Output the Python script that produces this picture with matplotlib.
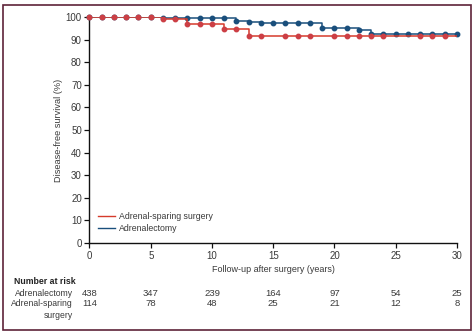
import numpy as np
import matplotlib
matplotlib.use("Agg")
import matplotlib.pyplot as plt
from matplotlib.patches import Rectangle
from matplotlib.lines import Line2D

plt.rcParams['font.family'] = ['Liberation Sans', 'DejaVu Sans']

# follow-up years with a censoring mark and the survival estimate at that time
years_adx = [0, 1, 2, 3, 4, 5, 6, 7, 8, 9, 10, 11, 12, 13, 14, 15, 16, 17, 18,
             19, 20, 21, 22, 23, 24, 25, 26, 27, 28, 29, 30]
surv_adx = [100, 100, 100, 100, 100, 100, 99.6, 99.6, 99.6, 99.6, 99.6, 99.6,
            98.4, 97.8, 97.3, 97.3, 97.3, 97.3, 97.3, 95.2, 95.2, 95.2, 94.2,
            92.6, 92.6, 92.6, 92.6, 92.6, 92.6, 92.6, 92.6]

years_spare = [0, 1, 2, 3, 4, 5, 6, 7, 8, 9, 10, 11, 12, 13, 14, 16, 17, 18,
               20, 21, 22, 23, 24, 27, 28, 29, 30]
surv_spare = [100, 100, 100, 100, 100, 100, 99.0, 99.0, 96.8, 96.8, 96.8,
              94.7, 94.7, 91.7, 91.7, 91.7, 91.7, 91.7, 91.7, 91.7, 91.7,
              91.7, 91.7, 91.7, 91.7, 91.7, 91.7]

risk_years = [0, 5, 10, 15, 20, 25, 30]
risk_adx = [438, 347, 239, 164, 97, 54, 25]
risk_spare = [114, 78, 48, 25, 21, 12, 8]

red = '#d63b2b'
red_mk = '#cc3f45'
blue = '#1a4f7c'
grey = '#3a3a3a'

W, H = 477, 335
fig = plt.figure(figsize=(W / 100, H / 100), dpi=100)

# outer frame
fig.patches.append(Rectangle((3 / W, 5 / H), 468 / W, 325 / H, transform=fig.transFigure,
                             fill=False, edgecolor='#5e2338', linewidth=1.2))

ax = fig.add_axes([89.5 / W, 1 - 243 / H, (457 - 89.5) / W, (243 - 17) / H])

ax.step(years_adx, surv_adx, where='post', color=blue, linewidth=1.1, zorder=3)
ax.plot(years_adx, surv_adx, 'o', color=blue, markersize=3.2, zorder=4, clip_on=False)
ax.step(years_spare[:-1] + [30], surv_spare, where='post', color=red, linewidth=1.1, zorder=5)
ax.plot(years_spare[:-1], surv_spare[:-1], 'o', color=red_mk, markersize=3.2, zorder=6,
        clip_on=False)

ax.set_xlim(0, 30)
ax.set_ylim(0, 100)
ax.set_xticks(range(0, 31, 5))
ax.set_yticks(range(0, 101, 10))
for s in ['top', 'right']:
    ax.spines[s].set_visible(False)
for s in ['left', 'bottom']:
    ax.spines[s].set_linewidth(1.0)
    ax.spines[s].set_color('#111111')
ax.tick_params(direction='out', length=3.5, width=0.9, labelsize=7, colors='#111111',
               labelcolor=grey, pad=2)

ax.set_ylabel('Disease-free survival (%)', fontsize=6.6, color=grey, labelpad=2)
ax.set_xlabel('Follow-up after surgery (years)', fontsize=6.5, color=grey, labelpad=3)

handles = [Line2D([], [], color=red, linewidth=1.0),
           Line2D([], [], color=blue, linewidth=1.0)]
ax.legend(handles, ['Adrenal-sparing surgery', 'Adrenalectomy'], loc='lower left',
          bbox_to_anchor=(0.01, 0.02), frameon=False, fontsize=6.3, handlelength=1.9,
          handletextpad=0.4, labelspacing=0.35, labelcolor=grey, borderaxespad=0.2)

# number at risk table
tr = ax.get_xaxis_transform()
fig.text(14 / W, 1 - 281 / H, 'Number at risk', fontsize=6.3, fontweight='bold',
         color='#222222', va='center', ha='left')
fig.text(73 / W, 1 - 293 / H, 'Adrenalectomy', fontsize=6.2, color=grey, va='center', ha='right')
fig.text(73 / W, 1 - 304 / H, 'Adrenal-sparing', fontsize=6.2, color=grey, va='center', ha='right')
fig.text(73 / W, 1 - 315 / H, 'surgery', fontsize=6.2, color=grey, va='center', ha='right')
y_row1 = -(293 - 243) / (243 - 17)
y_row2 = -(304 - 243) / (243 - 17)
for x, a, b in zip(risk_years, risk_adx, risk_spare):
    ax.text(x, y_row1, str(a), transform=tr, fontsize=6.8, color=grey, ha='center', va='center')
    ax.text(x, y_row2, str(b), transform=tr, fontsize=6.8, color=grey, ha='center', va='center')

fig.savefig('out.png', dpi=100)
